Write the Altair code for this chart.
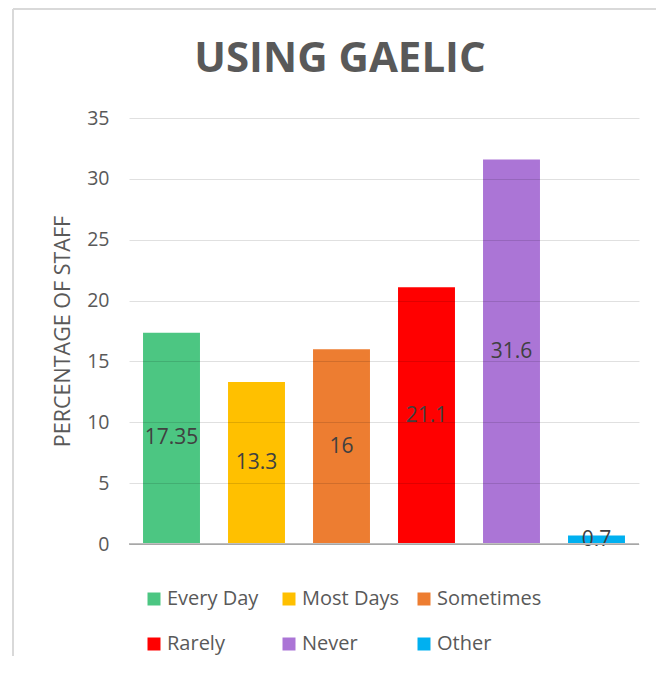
import altair as alt
import pandas as pd

categories = ["Every Day", "Most Days", "Sometimes", "Rarely", "Never", "Other"]
values = [17.35, 13.3, 16, 21.1, 31.6, 0.7]
colors = ["#4CC682", "#FFC000", "#ED7D31", "#FF0000", "#AB75D6", "#00B0F0"]

df = pd.DataFrame({"category": categories, "value": values})

FONT = "Open Sans"
GREY = "#595959"

x = alt.X("category:N", sort=categories, axis=None,
          scale=alt.Scale(paddingInner=0.33, paddingOuter=0.165))

bars = alt.Chart(df).mark_bar().encode(
    x=x,
    y=alt.Y("value:Q", scale=alt.Scale(domain=[0, 35]),
            axis=alt.Axis(title="PERCENTAGE OF STAFF", values=[0, 5, 10, 15, 20, 25, 30, 35],
                          domain=False, ticks=False, labelPadding=20,
                          labelFontSize=19.5, labelColor=GREY, labelFont=FONT,
                          titleFontSize=21.5, titleFontWeight="normal", titleColor=GREY,
                          titleFont=FONT, titlePadding=12,
                          gridColor="#000000", gridOpacity=0.12, zindex=1)),
    color=alt.Color("category:N", sort=categories,
                    scale=alt.Scale(domain=categories, range=colors),
                    legend=alt.Legend(title=None, orient="none", legendX=15, legendY=471,
                                      direction="horizontal", columns=3, gridAlign="all",
                                      columnPadding=7, rowPadding=25, padding=0,
                                      symbolType="square", symbolSize=169, symbolStrokeWidth=0,
                                      labelFontSize=20, labelColor=GREY, labelFont=FONT,
                                      labelOffset=3)),
)

labels = alt.Chart(df).transform_calculate(mid="datum.value / 2").mark_text(
    fontSize=21, color="#404040", font=FONT, baseline="middle"
).encode(
    x=alt.X("category:N", sort=categories, axis=None),
    y=alt.Y("mid:Q"),
    text=alt.Text("value:Q", format=".4~r"),
)

baseline = alt.Chart(df).mark_rule(color="#BFBFBF", strokeWidth=1.5).encode(
    x=alt.value(0), x2=alt.value(510), y=alt.datum(0)
)

border_left = alt.Chart(df).mark_rule(color="#D9D9D9", strokeWidth=1.5).encode(
    x=alt.value(-116), y=alt.value(-109), y2=alt.value(548)
)
border_top = alt.Chart(df).mark_rule(color="#D9D9D9", strokeWidth=1.5).encode(
    x=alt.value(-116), x2=alt.value(530), y=alt.value(-109)
)

chart = alt.layer(bars, labels, baseline, border_left, border_top).properties(
    width=510, height=426,
    background="white",
    title=alt.TitleParams("USING GAELIC", fontSize=42, fontWeight="bold", color=GREY,
                          font=FONT, anchor="middle", frame="group", dx=-44, offset=-106,
                          baseline="alphabetic"),
    autosize=alt.AutoSizeParams(type="none"),
    padding={"left": 121, "top": 110, "right": 17, "bottom": 112},
).configure_view(stroke=None, strokeWidth=0)

chart.save("out.html", embed_options={"renderer": "svg", "actions": False})
